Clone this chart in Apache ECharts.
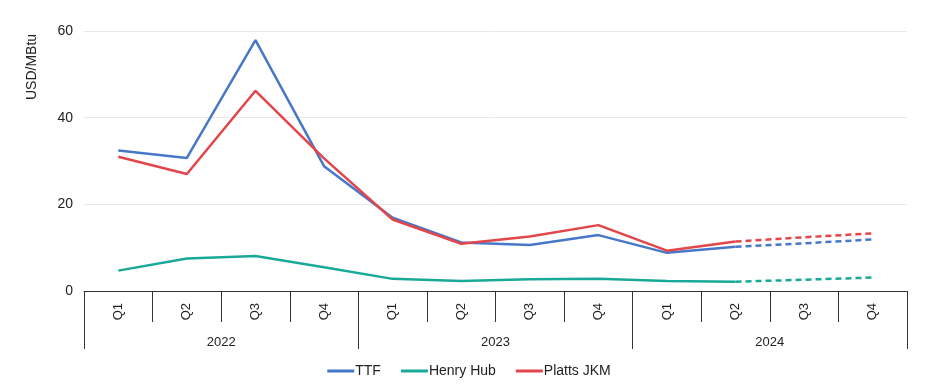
<!DOCTYPE html>
<html>
<head>
<meta charset="utf-8">
<script src="https://cdn.jsdelivr.net/npm/echarts@6/dist/echarts.min.js"></script>
<style>html,body{margin:0;padding:0;background:#fff}#c{width:938px;height:389px}</style>
</head>
<body>
<div id="c"></div>
<script>
const quarters = ['Q1','Q2','Q3','Q4','Q1','Q2','Q3','Q4','Q1','Q2','Q3','Q4'];
const years = ['2022','2023','2024'];
const ttf = [32.4, 30.7, 57.9, 28.8, 16.9, 11.2, 10.6, 12.9, 8.8, 10.2, 11.0, 11.9];
const henryHub = [4.7, 7.5, 8.1, 5.5, 2.8, 2.3, 2.7, 2.85, 2.3, 2.15, 2.6, 3.1];
const plattsJkm = [31.0, 27.0, 46.2, 30.6, 16.5, 10.9, 12.6, 15.2, 9.3, 11.4, 12.4, 13.3];
const yTicks = [0, 20, 40, 60];
const lastActual = 9; // index of 2024 Q2

const colors = { 'TTF': '#4677c8', 'Henry Hub': '#19a998', 'Platts JKM': '#e2464b' };
const seriesDefs = [['TTF', ttf], ['Henry Hub', henryHub], ['Platts JKM', plattsJkm]];

const series = [];
seriesDefs.forEach(([name, vals]) => {
  series.push({
    name: name, type: 'line', xAxisIndex: 0,
    data: vals.map((v, i) => i <= lastActual ? v : '-'),
    symbol: 'none', lineStyle: { width: 2.5, color: colors[name] },
    itemStyle: { color: colors[name] }, animation: false
  });
  series.push({
    name: name + ' (forecast)', type: 'line', xAxisIndex: 0,
    data: vals.map((v, i) => i >= lastActual ? v : '-'),
    symbol: 'none', lineStyle: { width: 2.5, color: colors[name], type: [6, 4] },
    itemStyle: { color: colors[name] }, animation: false
  });
});

const font = 'Liberation Sans, Arial, sans-serif';
const chart = echarts.init(document.getElementById('c'), null, { renderer: 'canvas' });
chart.setOption({
  animation: false,
  grid: { left: 84, right: 31, top: 31, bottom: 98 },
  legend: {
    data: ['TTF', 'Henry Hub', 'Platts JKM'],
    bottom: 6, left: 'center',
    icon: 'rect', itemWidth: 27, itemHeight: 3, itemGap: 20,
    textStyle: { fontFamily: font, fontSize: 14, color: '#222', padding: [0, 0, 0, -4] }
  },
  xAxis: [
    {
      type: 'category', data: quarters, position: 'bottom', boundaryGap: true,
      axisLine: { show: true, lineStyle: { color: '#333', width: 1 } },
      axisTick: { show: true, length: 31, lineStyle: { color: '#333' }, interval: 0 },
      axisLabel: { rotate: 90, margin: 12, interval: 0, fontFamily: font, fontSize: 13, color: '#222' },
      splitLine: { show: false }
    },
    {
      type: 'category', data: years, position: 'bottom', boundaryGap: true,
      axisLine: { show: false },
      axisTick: { show: true, length: 58, lineStyle: { color: '#333' }, interval: 0 },
      axisLabel: { margin: 45, interval: 0, fontFamily: font, fontSize: 13, color: '#222' },
      splitLine: { show: false }
    }
  ],
  yAxis: {
    type: 'value', min: yTicks[0], max: yTicks[yTicks.length - 1], interval: 20,
    axisLine: { show: false }, axisTick: { show: false },
    axisLabel: { margin: 11, fontFamily: font, fontSize: 14, color: '#222' },
    splitLine: { lineStyle: { color: '#e8e8e8', width: 1 } }
  },
  graphic: [{
    type: 'text', x: 32, y: 67, rotation: Math.PI / 2,
    style: { text: 'USD/MBtu', fontFamily: font, fontSize: 14, fill: '#222', textAlign: 'center', textVerticalAlign: 'middle' }
  }],
  series: series
});
</script>
</body>
</html>
